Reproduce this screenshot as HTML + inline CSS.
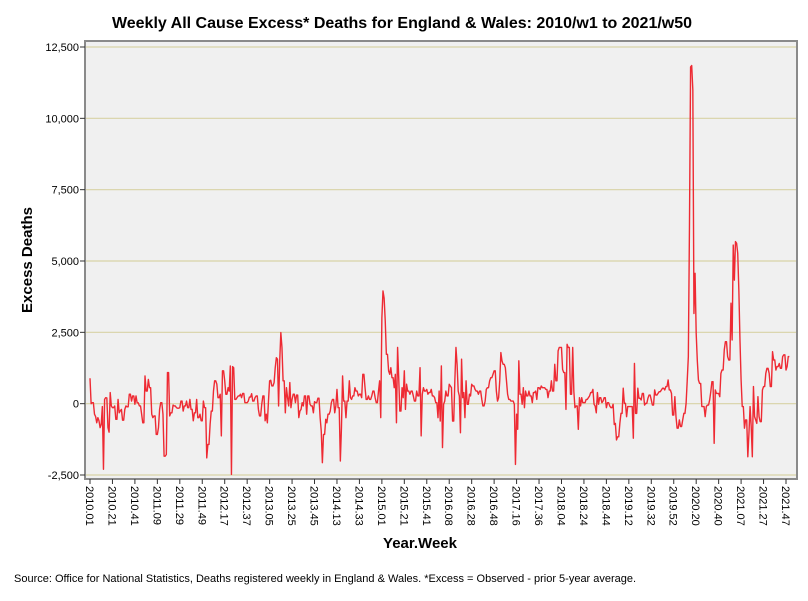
<!DOCTYPE html>
<html><head><meta charset="utf-8"><style>
html,body{margin:0;padding:0;background:#fff;width:808px;height:601px;overflow:hidden}
svg{display:block;font-family:"Liberation Sans",sans-serif}
</style></head><body>
<svg id="chart" width="808" height="601">
<text x="402" y="28" text-anchor="middle" font-size="16" font-weight="bold">Weekly All Cause Excess* Deaths for England &amp; Wales: 2010/w1 to 2021/w50</text>
<rect x="85" y="41" width="712" height="438" fill="#f0f0f0" stroke="#8a8a8a" stroke-width="2"/>
<g id="grid"></g><g id="yticks"></g><g id="xticks"></g>
<path id="line" fill="none" stroke="#ee2a33" stroke-width="1.4" stroke-linejoin="round"/>
<text transform="translate(32,260) rotate(-90)" text-anchor="middle" font-size="15" font-weight="bold">Excess Deaths</text>
<text x="420" y="548" text-anchor="middle" font-size="15" font-weight="bold">Year.Week</text>
<text x="14" y="582" font-size="11">Source: Office for National Statistics, Deaths registered weekly in England &amp; Wales. *Excess = Observed - prior 5-year average.</text>
</svg>
<script>
const yTicks=[-2500,0,2500,5000,7500,10000,12500];
const yTickLabels=["-2,500","0","2,500","5,000","7,500","10,000","12,500"];
const xTickLabels=["2010.01","2010.21","2010.41","2011.09","2011.29","2011.49","2012.17","2012.37","2013.05","2013.25","2013.45","2014.13","2014.33","2015.01","2015.21","2015.41","2016.08","2016.28","2016.48","2017.16","2017.36","2018.04","2018.24","2018.44","2019.12","2019.32","2019.52","2020.20","2020.40","2021.07","2021.27","2021.47"];
const y2010=[890,0,35,35,-370,-450,-670,-490,-600,-840,-730,-100,-2300,150,210,200,-840,-1000,390,-80,-140,-140,-80,-550,-550,150,-320,-250,-200,-580,-580,-200,-80,-110,-110,330,330,90,270,270,-20,270,30,30,-80,-80,-370,-670,-670,970,440,440];
const y2011=[850,560,560,-370,-490,-430,-430,-1080,-1080,-840,-200,35,35,-370,-1840,-1840,-1780,1090,1090,-430,-320,-320,-50,-80,-80,-140,-160,-160,-140,90,90,-260,-80,-80,90,-140,-140,150,-200,-200,-600,-320,-320,150,-490,-490,-370,-600,-600,90,-140,-140];
const y2012=[-1900,-1430,-1430,-720,-260,-260,440,800,800,680,210,210,330,-1130,1150,1150,800,330,330,560,440,1320,-2480,1300,1260,150,150,210,270,270,330,210,360,360,35,35,35,90,230,230,350,90,90,210,270,270,-200,-430,-430,-20,270,270];
const y2013=[-600,-370,-670,100,800,820,620,620,740,1260,1610,1560,-80,1500,2490,1970,800,800,-320,560,210,-80,740,-140,150,330,330,35,300,300,-490,-260,-200,35,-80,270,270,-370,270,270,-20,-80,-80,-320,70,35,35,190,190,-490,-960,-2070];
const y2014=[-1080,-1080,-550,-670,-370,-370,-260,35,150,150,-320,-80,500,-140,-140,-2010,-840,970,90,90,-490,90,90,800,210,150,270,270,560,440,440,270,330,330,210,1030,1030,560,150,150,270,150,150,270,440,440,210,35,35,440,800,-490];
const y2015=[3000,3950,3700,2900,1730,1730,1150,1030,1260,910,910,560,1030,-670,1970,910,-260,-260,560,210,1150,-200,680,440,440,330,440,440,270,90,90,440,270,270,1260,-1130,330,560,440,440,500,330,390,390,500,270,270,210,35,35,-490,440,-610];
const y2016=[1320,-1540,-20,90,440,270,270,680,620,560,-610,-610,800,1970,1380,440,270,-1020,1560,210,390,-490,800,-20,-20,330,270,680,620,620,500,440,440,330,440,440,150,-80,-80,90,500,560,560,800,910,910,1030,1150,1150,440,90,210];
const y2017=[800,1790,1500,1380,1380,1260,800,330,150,150,90,90,90,-20,-2130,-370,-900,1500,330,330,-20,560,-140,440,270,270,440,270,270,35,390,390,440,150,560,560,500,620,560,560,560,500,500,210,440,440,800,440,440,1380,800,800];
const y2018=[1850,1970,1970,1970,1200,1090,1090,-200,2080,1970,1970,330,330,1970,440,-140,-80,-80,-900,210,-80,210,35,35,35,150,150,210,270,390,390,500,-20,-80,-320,390,-20,210,210,35,90,210,210,-140,35,35,-80,-140,-140,-20,-730,-690];
const y2019=[-1270,-1160,-1160,-690,-340,-340,540,10,10,-455,-100,-100,-100,-100,-100,-1210,1410,-340,-340,540,190,190,130,360,360,-50,10,10,190,300,300,130,-50,-50,480,300,300,360,420,420,480,540,540,480,600,600,830,480,480,360,-400,-400];
const y2020=[245,-455,-860,-860,-570,-800,-800,-570,-340,-340,10,800,1650,6200,11800,11850,11000,3160,4570,2460,1500,830,710,710,-100,-100,-100,-455,-100,-50,-50,130,420,770,770,-1390,480,360,360,360,245,1060,1180,1180,1880,2170,2170,1650,1530,1530,3520,2230,5560];
const y2021=[4330,5680,5620,5270,3980,2230,830,-100,-100,-860,-570,-570,-1860,-1040,-100,-800,-1860,600,-455,-570,-690,245,-455,-630,-630,480,600,600,1060,1240,1240,1060,600,600,1820,1530,1530,1180,1300,1300,1410,1240,1240,1650,1710,1710,1180,1300,1650,1650];
const values=[].concat(y2010,y2011,y2012,y2013,y2014,y2015,y2016,y2017,y2018,y2019,y2020,y2021);
const NS="http://www.w3.org/2000/svg";
const x0=90,x1=786,yTop=47,yBot=475;
function xScale(i){return x0+(x1-x0)*i/620;}
function yScale(v){return yBot-(v+2500)/15000*(yBot-yTop);}
const grid=document.getElementById('grid'),yt=document.getElementById('yticks'),xt=document.getElementById('xticks');
yTicks.forEach((v,k)=>{
  const y=yScale(v);
  const l=document.createElementNS(NS,'line');
  l.setAttribute('x1',86);l.setAttribute('x2',796);l.setAttribute('y1',y);l.setAttribute('y2',y);
  l.setAttribute('stroke','#d8d3a6');l.setAttribute('stroke-width','1.2');
  
  
  grid.appendChild(l);
  const tk=document.createElementNS(NS,'line');
  tk.setAttribute('x1',80);tk.setAttribute('x2',85);tk.setAttribute('y1',y);tk.setAttribute('y2',y);tk.setAttribute('stroke','#333');
  
  
  yt.appendChild(tk);
  const t=document.createElementNS(NS,'text');
  t.setAttribute('x',79);t.setAttribute('y',y+4);t.setAttribute('text-anchor','end');t.setAttribute('font-size','11');
  t.textContent=yTickLabels[k];
  
  
  yt.appendChild(t);
});
xTickLabels.forEach((lab,k)=>{
  const x=xScale(k*20);
  const tk=document.createElementNS(NS,'line');
  tk.setAttribute('x1',x);tk.setAttribute('x2',x);tk.setAttribute('y1',479);tk.setAttribute('y2',484);tk.setAttribute('stroke','#333');
  
  
  xt.appendChild(tk);
  const t=document.createElementNS(NS,'text');
  t.setAttribute('transform','translate('+(x-4)+',486) rotate(90)');
  t.setAttribute('font-size','11');
  t.textContent=lab;
  
  
  xt.appendChild(t);
});
let d='';
values.forEach((v,i)=>{d+=(i?'L':'M')+xScale(i).toFixed(2)+','+yScale(v).toFixed(2);});
document.getElementById('line').setAttribute('d',d);
</script>
</body></html>
